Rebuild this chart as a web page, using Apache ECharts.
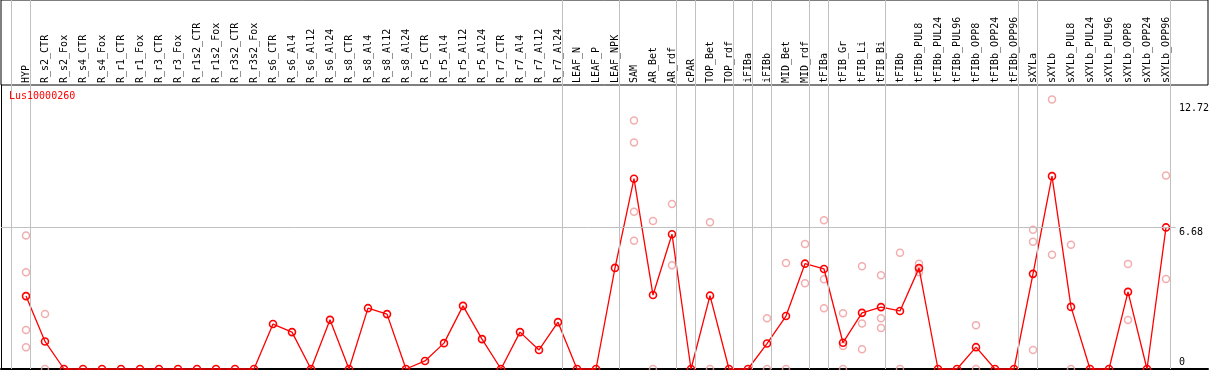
<!DOCTYPE html>
<html>
<head>
<meta charset="utf-8">
<script src="https://cdn.jsdelivr.net/npm/echarts@6/dist/echarts.min.js"></script>
<style>
html,body{margin:0;padding:0;background:#fff;}
#chart{width:1209px;height:370px;}
</style>
</head>
<body>
<div id="chart"></div>
<script>
// ---------------- data ----------------
const chartTitle = 'Lus10000260';

const categories = [
  'HYP',
  'R_s2_CTR','R_s2_Fox','R_s4_CTR','R_s4_Fox','R_r1_CTR','R_r1_Fox','R_r3_CTR','R_r3_Fox',
  'R_r1s2_CTR','R_r1s2_Fox','R_r3s2_CTR','R_r3s2_Fox',
  'R_s6_CTR','R_s6_Al4','R_s6_Al12','R_s6_Al24','R_s8_CTR','R_s8_Al4','R_s8_Al12','R_s8_Al24',
  'R_r5_CTR','R_r5_Al4','R_r5_Al12','R_r5_Al24','R_r7_CTR','R_r7_Al4','R_r7_Al12','R_r7_Al24',
  'LEAF_N','LEAF_P','LEAF_NPK',
  'SAM','AR_Bet','AR_rdf','cPAR','TOP_Bet','TOP_rdf','iFIBa','iFIBb','MID_Bet','MID_rdf',
  'tFIBa','tFIB_Gr','tFIB_Li','tFIB_Bi','tFIBb',
  'tFIBb_PUL8','tFIBb_PUL24','tFIBb_PUL96','tFIBb_OPP8','tFIBb_OPP24','tFIBb_OPP96',
  'sXYLa','sXYLb',
  'sXYLb_PUL8','sXYLb_PUL24','sXYLb_PUL96','sXYLb_OPP8','sXYLb_OPP24','sXYLb_OPP96'
];

const means = [
  3.44,
  1.30, 0, 0, 0, 0, 0, 0, 0,
  0, 0, 0, 0,
  2.12, 1.74, 0, 2.32, 0, 2.87, 2.59, 0,
  0.38, 1.22, 2.98, 1.41, 0, 1.74, 0.90, 2.21,
  0, 0, 4.77,
  8.98, 3.49, 6.36, 0, 3.46, 0, 0, 1.20, 2.50, 4.97,
  4.72, 1.24, 2.65, 2.92, 2.74,
  4.76, 0, 0, 1.03, 0, 0,
  4.49, 9.10,
  2.93, 0, 0, 3.64, 0, 6.68
];

const replicates = [
  [6.30, 4.57, 1.84, 1.03],
  [2.60, 0], [], [], [], [], [], [], [],
  [], [], [], [],
  [], [], [], [], [], [], [], [],
  [], [], [], [], [], [], [], [],
  [], [], [],
  [11.73, 10.69, 7.42, 6.05], [6.98, 0], [7.78, 4.90], [], [6.93, 0], [], [], [2.40, 0], [5.00, 0], [5.90, 4.05],
  [7.02, 4.24, 2.87], [2.63, 1.09, 0], [4.85, 2.15, 0.93], [4.42, 2.40, 1.93], [5.48, 0],
  [4.97, 4.56], [], [], [2.07, 0], [], [],
  [6.57, 6.00, 0.90], [12.72, 5.39],
  [5.86, 0], [], [], [4.96, 2.31], [], [9.13, 4.25]
];

// index of the last category of each group (-1 = before the first one)
const groupEnds = [-1, 0, 28, 31, 34, 35, 37, 38, 39, 41, 42, 45, 52, 53, 60];

const yTickLabels = [0, 6.68, 12.72];
const refLineValue = 6.68;
const yAxisMax = 13.40;

// ---------------- layout ----------------
const FONT = 'DejaVu Sans Mono';
const W = 1209;
const gridLeft = 1, gridRight = 1;
const step = 19;          // px per category
const firstCenter = 26;   // px of first category
const xMin = -(firstCenter - gridLeft) / step;
const xMax = xMin + (W - gridLeft - gridRight) / step;
const sepOffset = 0.24;

const scatterData = [];
replicates.forEach((arr, i) => arr.forEach(v => scatterData.push([i, v])));
const lineData = means.map((v, i) => [i, v]);

const gridLineStyle = {color: '#c0c0c0', width: 1, type: 'solid'};

const chart = echarts.init(document.getElementById('chart'), null, {renderer: 'canvas'});
chart.setOption({
  animation: false,
  backgroundColor: '#fff',
  title: {
    text: chartTitle, left: 9, top: 91, padding: 0,
    textStyle: {color: '#ff0000', fontFamily: FONT, fontSize: 10, fontWeight: 'normal'}
  },
  grid: [
    {left: gridLeft, right: gridRight, top: 0, height: 85, show: true, borderColor: '#000', borderWidth: 1,
     backgroundColor: 'transparent', containLabel: false, outerBoundsMode: 'none'},
    {left: gridLeft, right: gridRight, top: 85, bottom: 1, containLabel: false, outerBoundsMode: 'none'}
  ],
  xAxis: [
    {
      gridIndex: 0, type: 'value', min: xMin, max: xMax, position: 'bottom',
      axisLine: {show: false}, axisTick: {show: false}, splitLine: {show: false},
      axisLabel: {
        inside: true, rotate: 90, margin: 2, showMinLabel: true, showMaxLabel: true,
        customValues: categories.map((_, i) => i),
        formatter: v => categories[Math.round(v)] || '',
        fontFamily: FONT, fontSize: 10, color: '#000'
      }
    },
    {
      gridIndex: 1, type: 'value', min: xMin, max: xMax, position: 'bottom',
      axisLine: {show: true, onZero: false, lineStyle: {color: '#000', width: 2}},
      axisTick: {show: false}, axisLabel: {show: false}, splitLine: {show: false}
    }
  ],
  yAxis: [
    {gridIndex: 0, type: 'value', min: 0, max: 1, show: false},
    {
      gridIndex: 1, type: 'value', min: 0, max: yAxisMax, position: 'right', offset: -29,
      axisLine: {show: false}, axisTick: {show: false}, splitLine: {show: false},
      axisLabel: {
        customValues: yTickLabels, margin: 0, showMinLabel: true, showMaxLabel: true,
        fontFamily: FONT, fontSize: 10, color: '#000', align: 'left',
        formatter: v => {
          if (v === 0) return '{z|0}';
          if (v === yTickLabels[yTickLabels.length - 1]) return '{t|' + v + '}';
          return '{m|' + v + '}';
        },
        rich: {
          z: {fontFamily: FONT, fontSize: 10, color: '#000', lineHeight: 24, verticalAlign: 'top'},
          t: {fontFamily: FONT, fontSize: 10, color: '#000', lineHeight: 27, verticalAlign: 'bottom'},
          m: {fontFamily: FONT, fontSize: 10, color: '#000', lineHeight: 19, verticalAlign: 'bottom'}
        }
      }
    },
    {
      gridIndex: 1, type: 'value', min: 0, max: yAxisMax, position: 'left',
      axisLine: {show: true, lineStyle: {color: '#000', width: 1}},
      axisTick: {show: false}, axisLabel: {show: false}, splitLine: {show: false}
    }
  ],
  series: [
    {
      type: 'line', xAxisIndex: 0, yAxisIndex: 0, data: [], silent: true, z: 1,
      markLine: {
        silent: true, symbol: 'none', label: {show: false}, lineStyle: gridLineStyle,
        emphasis: {disabled: true},
        data: groupEnds.map(g => ({xAxis: g + sepOffset}))
      }
    },
    {
      type: 'line', xAxisIndex: 1, yAxisIndex: 1, data: [], silent: true, z: 1,
      markLine: {
        silent: true, symbol: 'none', label: {show: false}, lineStyle: gridLineStyle,
        emphasis: {disabled: true},
        data: groupEnds.map(g => ({xAxis: g + sepOffset})).concat([
          [{coord: [xMin, refLineValue]}, {coord: [categories.length - 0.5, refLineValue]}]
        ])
      }
    },
    {
      type: 'scatter', xAxisIndex: 1, yAxisIndex: 1, data: scatterData, z: 3, clip: false,
      symbol: 'circle', symbolSize: 7, silent: true,
      itemStyle: {color: 'transparent', borderColor: '#ef9a9a', borderWidth: 1.5}
    },
    {
      type: 'line', xAxisIndex: 1, yAxisIndex: 1, data: lineData, z: 4, clip: false,
      symbol: 'circle', symbolSize: 7, showAllSymbol: true, silent: true,
      lineStyle: {color: '#ff0000', width: 1.3},
      itemStyle: {color: 'transparent', borderColor: '#ff0000', borderWidth: 1.6}
    }
  ]
});
</script>
</body>
</html>
